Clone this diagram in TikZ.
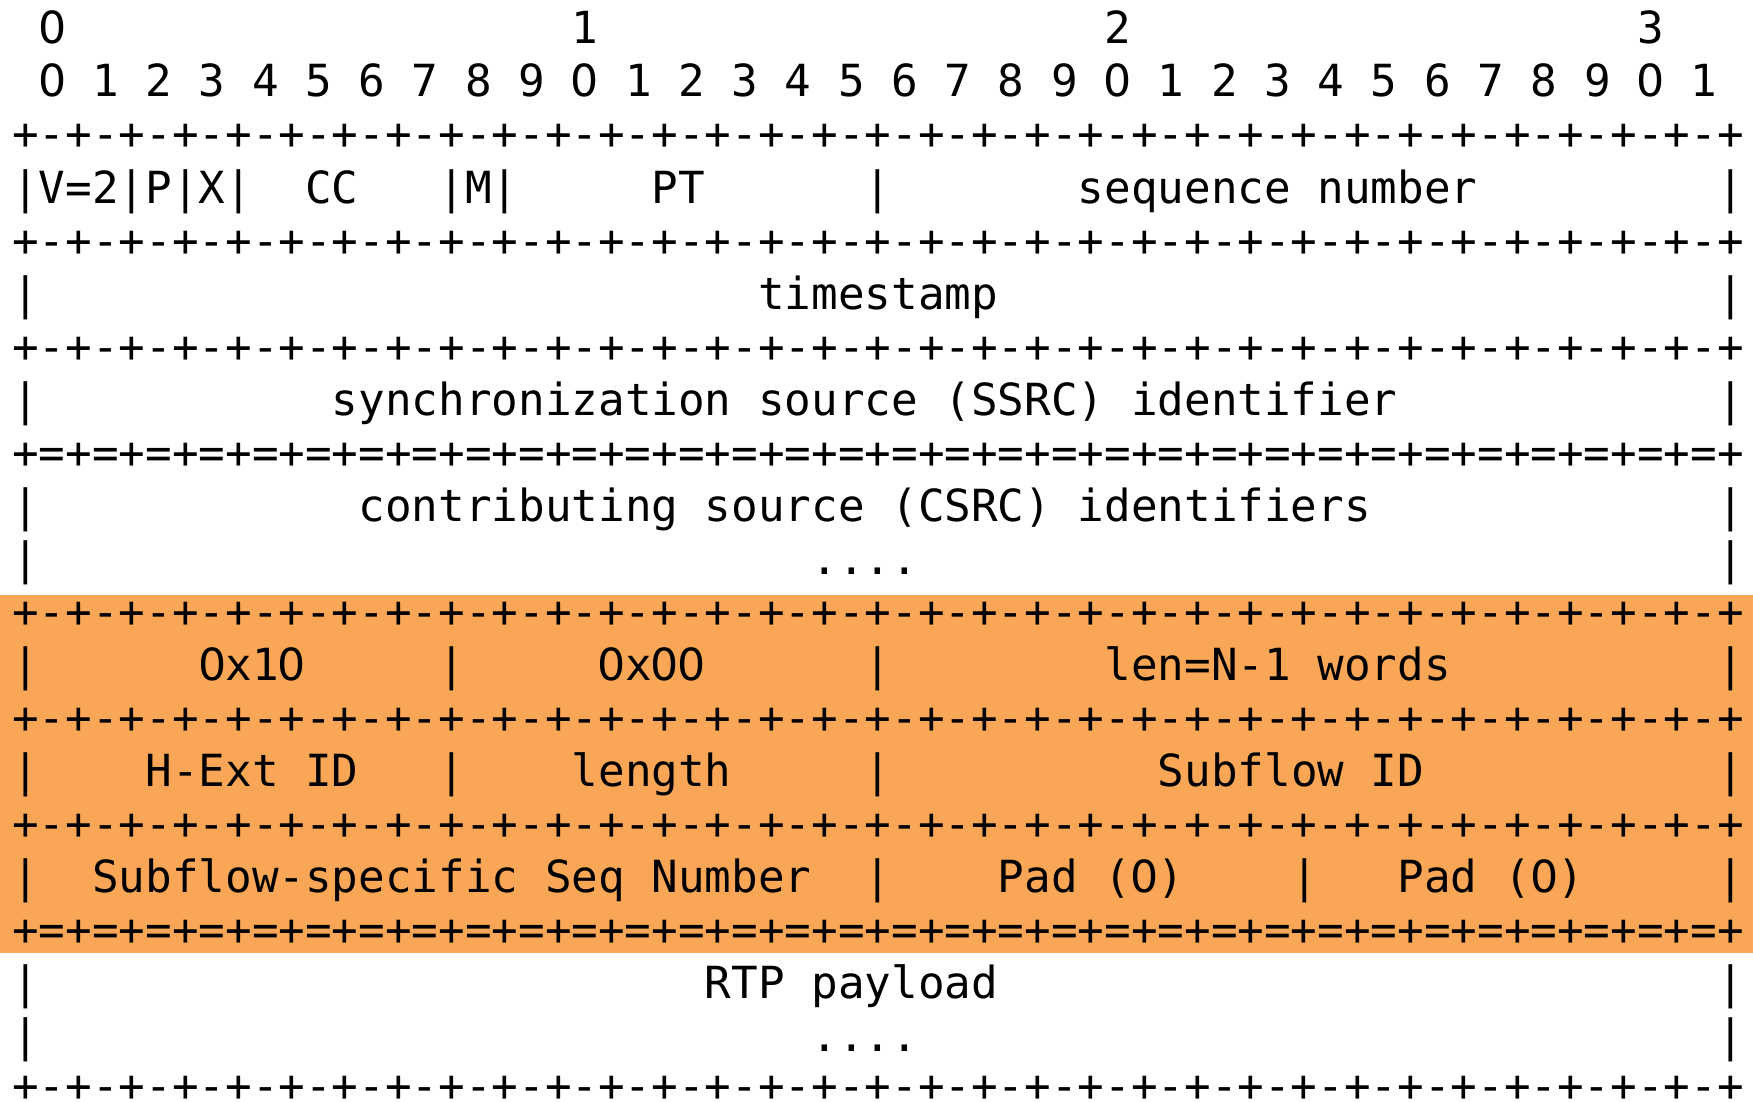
\documentclass[tikz,border=0pt]{standalone}
\usepackage{fontspec}
\newfontfamily\monofnt{DejaVu Sans Mono}
\newfontfamily\plainsans{DejaVu Sans}
\definecolor{bandorange}{RGB}{249,167,86}
\tikzset{
  cell/.style={anchor=base west, inner sep=0pt, outer sep=0pt,
    font=\monofnt\fontsize{44.25bp}{53bp}\selectfont, text=black}
}
\newcommand\zr{\makebox[0.60205em]{\plainsans 0}}
\newcommand\fieldtxt[4]{\node[cell] (#1) at (#2,#3) {#4};}
\newcommand\dashline{+-+-+-+-+-+-+-+-+-+-+-+-+-+-+-+-+-+-+-+-+-+-+-+-+-+-+-+-+-+-+-+-+}
\newcommand\eqline{+=+=+=+=+=+=+=+=+=+=+=+=+=+=+=+=+=+=+=+=+=+=+=+=+=+=+=+=+=+=+=+=+}
\begin{document}
\begin{tikzpicture}
\useasboundingbox (0,0) rectangle (1753bp,-1102bp);
\fill[white] (0,0) rectangle (1753bp,-1102bp);
\fill[bandorange] (0,-595bp) rectangle (1753bp,-953bp);
\begin{scope}[shift={(12.3bp,9.24bp)}, x=26.64bp, y=-53.06bp]
% header bit numbers
\fieldtxt{h0}{1}{1}{\zr}
\fieldtxt{h1}{21}{1}{1}
\fieldtxt{h2}{41}{1}{2}
\fieldtxt{h3}{61}{1}{3}
\fieldtxt{bits}{1}{2}{\zr{} 1 2 3 4 5 6 7 8 9 \zr{} 1 2 3 4 5 6 7 8 9 \zr{} 1 2 3 4 5 6 7 8 9 \zr{} 1}
% row 1
\fieldtxt{l3}{0}{3}{\dashline}
\fieldtxt{vpx}{0}{4}{|V=2|P|X|}
\fieldtxt{cc}{11}{4}{CC}
\fieldtxt{m}{16}{4}{|M|}
\fieldtxt{pt}{24}{4}{PT}
\fieldtxt{b4a}{32}{4}{|}
\fieldtxt{seq}{40}{4}{sequence number}
\fieldtxt{b4b}{64}{4}{|}
\fieldtxt{l5}{0}{5}{\dashline}
% timestamp
\fieldtxt{b6a}{0}{6}{|}
\fieldtxt{ts}{28}{6}{timestamp}
\fieldtxt{b6b}{64}{6}{|}
\fieldtxt{l7}{0}{7}{\dashline}
% SSRC
\fieldtxt{b8a}{0}{8}{|}
\fieldtxt{ssrc}{12}{8}{synchronization source (SSRC) identifier}
\fieldtxt{b8b}{64}{8}{|}
\fieldtxt{l9}{0}{9}{\eqline}
% CSRC
\fieldtxt{b10a}{0}{10}{|}
\fieldtxt{csrc}{13}{10}{contributing source (CSRC) identifiers}
\fieldtxt{b10b}{64}{10}{|}
\fieldtxt{b11a}{0}{11}{|}
\fieldtxt{dots1}{30}{11}{....}
\fieldtxt{b11b}{64}{11}{|}
% header extension (orange)
\fieldtxt{l12}{0}{12}{\dashline}
\fieldtxt{b13a}{0}{13}{|}
\fieldtxt{x10}{7}{13}{\zr x1\zr}
\fieldtxt{b13b}{16}{13}{|}
\fieldtxt{x00}{22}{13}{\zr x\zr\zr}
\fieldtxt{b13c}{32}{13}{|}
\fieldtxt{len}{41}{13}{len=N-1 words}
\fieldtxt{b13d}{64}{13}{|}
\fieldtxt{l14}{0}{14}{\dashline}
\fieldtxt{b15a}{0}{15}{|}
\fieldtxt{hext}{5}{15}{H-Ext ID}
\fieldtxt{b15b}{16}{15}{|}
\fieldtxt{length}{21}{15}{length}
\fieldtxt{b15c}{32}{15}{|}
\fieldtxt{sfid}{43}{15}{Subflow ID}
\fieldtxt{b15d}{64}{15}{|}
\fieldtxt{l16}{0}{16}{\dashline}
\fieldtxt{b17a}{0}{17}{|}
\fieldtxt{sfseq}{3}{17}{Subflow-specific Seq Number}
\fieldtxt{b17b}{32}{17}{|}
\fieldtxt{pad1}{37}{17}{Pad (\zr)}
\fieldtxt{b17c}{48}{17}{|}
\fieldtxt{pad2}{52}{17}{Pad (\zr)}
\fieldtxt{b17d}{64}{17}{|}
\fieldtxt{l18}{0}{18}{\eqline}
% payload
\fieldtxt{b19a}{0}{19}{|}
\fieldtxt{pay}{26}{19}{RTP payload}
\fieldtxt{b19b}{64}{19}{|}
\fieldtxt{b20a}{0}{20}{|}
\fieldtxt{dots2}{30}{20}{....}
\fieldtxt{b20b}{64}{20}{|}
\fieldtxt{l21}{0}{20.93}{\dashline}
\end{scope}
\end{tikzpicture}
\end{document}
